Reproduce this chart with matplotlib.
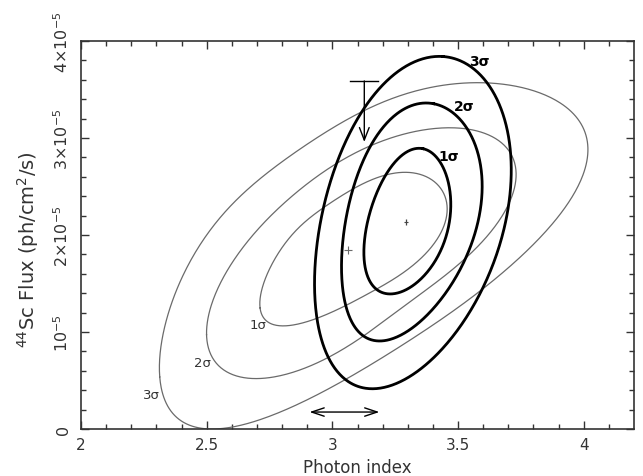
import numpy as np
import matplotlib
matplotlib.use("Agg")
import matplotlib.pyplot as plt

plt.rcParams['font.family'] = ['DejaVu Sans']
plt.rcParams['mathtext.fontset'] = 'dejavusans'

# ---------------- data (photon index, flux in units of 1e-5 ph/cm^2/s) ----------------
# thin (grey) confidence contours, traced points
thin1_x = [2.714, 2.722, 2.766, 2.845, 2.968, 3.111, 3.286, 3.377, 3.433, 3.452, 3.452, 3.433, 3.286, 3.099, 2.925, 2.806, 2.742]
thin1_y = [1.29, 1.49, 1.73, 2.01, 2.29, 2.52, 2.63, 2.61, 2.48, 2.35, 2.18, 2.01, 1.63, 1.32, 1.15, 1.05, 1.10]

thin2_x = [2.504, 2.528, 2.583, 2.683, 2.790, 2.925, 3.111, 3.345, 3.536, 3.671, 3.722, 3.730, 3.710, 3.671, 3.615,
           3.484, 3.353, 3.218, 3.087, 2.980, 2.833, 2.687, 2.567, 2.516]
thin2_y = [1.03, 1.32, 1.67, 2.01, 2.25, 2.59, 2.89, 3.04, 3.11, 2.97, 2.73, 2.60, 2.38, 2.14, 1.97,
           1.70, 1.39, 1.11, 0.91, 0.74, 0.57, 0.53, 0.60, 0.74]

thin3_x = [2.313, 2.329, 2.397, 2.500, 2.742, 2.925, 3.111, 3.345, 3.591, 3.881, 3.960, 4.024, 4.000, 3.933, 3.833,
           3.575, 3.345, 3.087, 2.829, 2.599, 2.544, 2.488, 2.437, 2.369, 2.329]
thin3_y = [0.64, 0.98, 1.57, 1.98, 2.63, 3.00, 3.27, 3.46, 3.59, 3.41, 3.21, 2.90, 2.56, 2.35, 2.01,
           1.39, 0.98, 0.54, 0.26, 0.01, -0.04, 0.02, 0.05, 0.15, 0.29]

# thick (black) confidence contours, traced points
thick1_x = [3.353, 3.405, 3.444, 3.464, 3.472, 3.456, 3.417, 3.353, 3.286, 3.218, 3.167, 3.135, 3.127, 3.135, 3.167, 3.218, 3.286]
thick1_y = [2.89, 2.84, 2.66, 2.45, 2.22, 1.96, 1.78, 1.57, 1.42, 1.39, 1.46, 1.67, 1.96, 2.16, 2.35, 2.63, 2.84]

thick2_x = [3.393, 3.484, 3.536, 3.575, 3.591, 3.587, 3.567, 3.484, 3.393, 3.286, 3.198, 3.107, 3.056, 3.036, 3.040,
            3.060, 3.087, 3.167, 3.258]
thick2_y = [3.36, 3.26, 3.10, 2.87, 2.56, 2.22, 1.96, 1.57, 1.22, 0.98, 0.90, 1.00, 1.24, 1.55, 1.86,
            2.22, 2.53, 2.97, 3.26]

thick3_x = [3.425, 3.552, 3.615, 3.671, 3.694, 3.706, 3.702, 3.683, 3.615, 3.524, 3.393, 3.258, 3.155, 3.087, 3.028,
            2.976, 2.940, 2.933, 2.940, 2.980, 3.024, 3.071, 3.127, 3.218, 3.313]
thick3_y = [3.82, 3.75, 3.59, 3.31, 3.04, 2.69, 2.35, 1.98, 1.57, 1.11, 0.70, 0.49, 0.42, 0.44, 0.55,
            0.79, 1.13, 1.49, 1.94, 2.45, 2.79, 3.07, 3.28, 3.62, 3.77]

# best-fit points
thin_best = (3.063, 1.845)
thick_best = (3.294, 2.134)

# upper limit (flux) and photon-index range
ulim_x = 3.127
ulim_bar = (3.071, 3.183)
ulim_top, ulim_tip = 3.588, 2.959
range_x = (2.909, 3.187)
range_y = 0.175

# contour labels
thin_labels = ['1σ', '2σ', '3σ']
thin_label_x = [2.706, 2.484, 2.280]
thin_label_y = [1.08, 0.69, 0.36]
thick_labels = ['1σ', '2σ', '3σ']
thick_label_x = [3.464, 3.524, 3.583]
thick_label_y = [2.81, 3.33, 3.79]

xticks = [2, 2.5, 3, 3.5, 4]
xticklabels = ['2', '2.5', '3', '3.5', '4']
yticks = [0, 1, 2, 3, 4]
yticklabels = ['0', r'$10^{-5}$', r'$2{\times}10^{-5}$', r'$3{\times}10^{-5}$', r'$4{\times}10^{-5}$']


def smooth_closed(xs, ys, nharm, n=600, iters=25):
    """Smooth closed curve through traced contour points (low-order Fourier fit,
    with the curve parameter of each traced point refined iteratively)."""
    x = np.asarray(xs, float)
    y = np.asarray(ys, float)
    X, Y = x * 252.0, y * 97.0          # roughly isotropic (pixel-like) coordinates
    d = np.hypot(np.diff(np.r_[X, X[0]]), np.diff(np.r_[Y, Y[0]]))
    s = np.r_[0.0, np.cumsum(d)[:-1]]
    t = 2 * np.pi * s / d.sum()
    tt = np.linspace(0, 2 * np.pi, n, endpoint=False)

    def basis(u):
        cols = [np.ones_like(u)]
        for k in range(1, nharm + 1):
            cols += [np.cos(k * u), np.sin(k * u)]
        return np.column_stack(cols)

    B = basis(tt)
    for _ in range(iters):
        A = basis(t)
        cx = np.linalg.lstsq(A, X, rcond=None)[0]
        cy = np.linalg.lstsq(A, Y, rcond=None)[0]
        DX, DY = B @ cx, B @ cy
        dist = (DX[None, :] - X[:, None]) ** 2 + (DY[None, :] - Y[:, None]) ** 2
        t = tt[np.argmin(dist, axis=1)]
    A = basis(t)
    cx = np.linalg.lstsq(A, X, rcond=None)[0]
    cy = np.linalg.lstsq(A, Y, rcond=None)[0]
    tt2 = np.linspace(0, 2 * np.pi, n + 1)
    B2 = basis(tt2)
    return (B2 @ cx) / 252.0, (B2 @ cy) / 97.0


fig = plt.figure(figsize=(6.43, 4.77), dpi=100)
ax = fig.add_axes([0.126, 0.0985, 0.860, 0.8135])

thin_col = '#6a6a6a'
for xs, ys in [(thin1_x, thin1_y), (thin2_x, thin2_y), (thin3_x, thin3_y)]:
    sx, sy = smooth_closed(xs, ys, 4)
    ax.plot(sx, sy, color=thin_col, lw=0.9)
for xs, ys in [(thick1_x, thick1_y), (thick2_x, thick2_y), (thick3_x, thick3_y)]:
    sx, sy = smooth_closed(xs, ys, 2)
    ax.plot(sx, sy, color='black', lw=2.0)

ax.plot([thin_best[0]], [thin_best[1]], marker='+', ms=6, mew=0.8, color=thin_col, ls='none')
ax.plot([thick_best[0]], [thick_best[1]], marker='|', ms=5, mew=0.9, color='#444444', ls='none')
ax.plot([thick_best[0]], [thick_best[1]], marker='_', ms=2.5, mew=0.8, color='#444444', ls='none')

# upper limit arrow
ax.plot(list(ulim_bar), [ulim_top, ulim_top], color='black', lw=1.0)
ax.annotate('', xy=(ulim_x, ulim_tip), xytext=(ulim_x, ulim_top),
            arrowprops=dict(arrowstyle='->,head_length=0.9,head_width=0.35', color='black', lw=1.0,
                            shrinkA=0, shrinkB=0))
# range double arrow
ax.annotate('', xy=(range_x[1], range_y), xytext=(range_x[0], range_y),
            arrowprops=dict(arrowstyle='<->,head_length=0.9,head_width=0.3', color='black', lw=1.0,
                            shrinkA=0, shrinkB=0))

for t, x, y in zip(thin_labels, thin_label_x, thin_label_y):
    ax.text(x, y, t, fontsize=9.5, color='#333333', ha='center', va='center')
for t, x, y in zip(thick_labels, thick_label_x, thick_label_y):
    ax.text(x, y, t, fontsize=10, color='black', fontweight='bold', ha='center', va='center')

ax.set_xlim(2, 4.2)
ax.set_ylim(0, 4)
ax.set_xticks(xticks)
ax.set_xticklabels(xticklabels)
ax.set_xticks(np.arange(2.0, 4.2, 0.1), minor=True)
ax.set_yticks(yticks)
ax.set_yticklabels(yticklabels, rotation=90, va='center')
ax.set_yticks(np.arange(0, 4.01, 0.2), minor=True)

ax.tick_params(which='both', direction='in', top=True, right=True, colors='#333333',
               labelcolor='#333333', width=1.0)
ax.tick_params(which='major', length=6)
ax.tick_params(axis='x', which='major', labelsize=11, pad=6)
ax.tick_params(axis='y', which='major', labelsize=11.5, pad=7)
ax.tick_params(which='minor', length=3.5)
for s in ax.spines.values():
    s.set_color('#333333')
    s.set_linewidth(1.2)

ax.set_xlabel('Photon index', fontsize=12, color='#333333', labelpad=4)
ax.set_ylabel(r'$^{44}$Sc Flux (ph/cm$^2$/s)', fontsize=14, color='#333333')
ax.yaxis.set_label_coords(-0.072, 0.465)

fig.savefig('out.png', dpi=100)
